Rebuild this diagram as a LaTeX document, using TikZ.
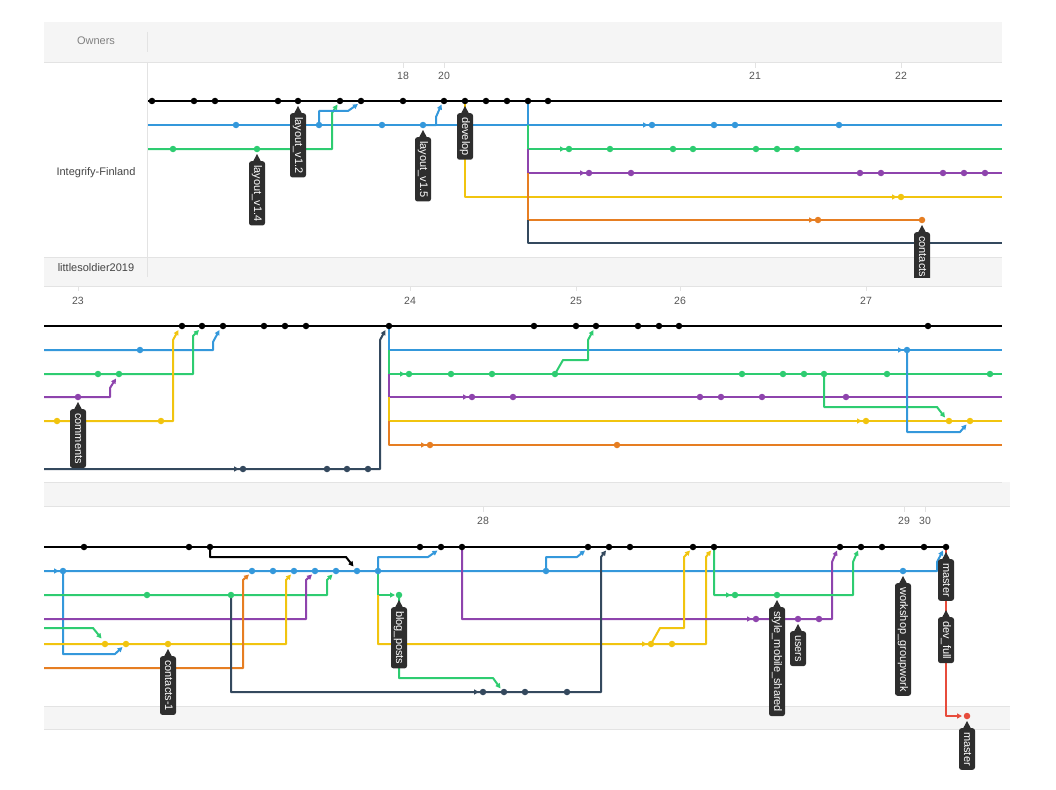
\documentclass[tikz,border=0pt]{standalone}
\usepackage{fontspec}
\setmainfont{Liberation Sans}
\usetikzlibrary{arrows.meta}

\definecolor{cB}{HTML}{3498DB}
\definecolor{cG}{HTML}{2ECC71}
\definecolor{cP}{HTML}{8E44AD}
\definecolor{cY}{HTML}{F1C40F}
\definecolor{cO}{HTML}{E67E22}
\definecolor{cN}{HTML}{34495E}
\definecolor{cR}{HTML}{E74C3C}
\definecolor{tagc}{HTML}{2E2E2E}
\definecolor{bandc}{HTML}{F5F5F5}
\definecolor{linec}{HTML}{E3E3E3}
\definecolor{datec}{HTML}{555555}
\definecolor{ownc}{HTML}{444444}

% branch label: name, x, y of the commit, text
\newcommand{\tagat}[4]{%
  \fill[tagc] (#2-4.5,#3+13.5) -- (#2,#3+5) -- (#2+4.5,#3+13.5) -- cycle;
  \node[tag] (#1) at (#2,#3+12) {#4};}
% arrow head in front of a commit dot: colour, x, y
\newcommand{\arrin}[3]{\draw[ln,#1,mrg] (#2-11,#3) -- (#2-4,#3);}

\begin{document}
\begin{tikzpicture}[
        x=1pt, y=-1pt,
        ln/.style={line width=2pt, line join=round},
        mrg/.style={-{Triangle[length=5pt,width=5pt]}},
        dot/.style={circle, inner sep=0pt, minimum size=6.5pt},
        tag/.style={fill=tagc, text=white, rounded corners=2.5pt, rotate=-90, anchor=west,
                    font=\fontsize{11}{11}\selectfont, inner xsep=4pt, inner ysep=3pt,
                    text height=7.8pt, text depth=2.2pt},
        bline/.style={draw=linec, line width=0.8pt},
        date/.style={text=datec, font=\fontsize{10.5}{12}\selectfont},
        owner/.style={text=ownc, font=\fontsize{11}{13}\selectfont}
    ]
\useasboundingbox (0,0) rectangle (1056,789);

% --- Panel 1: frame ---
\fill[bandc] (44,22) rectangle (1002,62);
\fill[bandc] (44,257) rectangle (1002,286);
\draw[bline] (44,62) -- (1002,62) (44,257) -- (1002,257) (44,286) -- (1002,286);
\draw[bline] (147,32) -- (147,52) (147,62) -- (147,277);
\node[owner, text=datec!75] (own) at (96,41) {Owners};
\node[owner] (org) at (96,173) {Integrify-Finland};
\node[owner] (usr) at (96,268) {littlesoldier2019};
\foreach \x/\d in {403/18,444/20,755/21,901/22} {
    \draw[bline] (\x,62) -- (\x,68);
    \node[date] (d\d) at (\x,76) {\d};
}

% --- Panel 1: branches ---
\draw[ln] (148,101) -- (1002,101);
\draw[ln,cB] (148,125) -- (1002,125);
\draw[ln,cG,mrg] (148,149) -- (332,149) -- (332,113) -- (337.5,104.5);
\draw[ln,cB,mrg] (319,125) -- (319,111) -- (348,111) -- (358,104);
\draw[ln,cB,mrg] (423,125) -- (436,125) -- (436,117) -- (441.5,104.5);
\draw[ln,cY] (465,101) -- (465,197) -- (1002,197);
\draw[ln,cB] (528,101) -- (528,125);
\draw[ln,cG] (528,125) -- (528,149) -- (1002,149);
\draw[ln,cP] (528,149) -- (528,173) -- (1002,173);
\draw[ln,cO] (528,173) -- (528,220) -- (922,220);
\draw[ln,cN] (528,220) -- (528,243) -- (1002,243);
\arrin{cB}{652}{125} \arrin{cG}{569}{149} \arrin{cP}{589}{173}
\arrin{cY}{901}{197} \arrin{cO}{818}{220}

% --- Panel 1: commits ---
\foreach \x [count=\i] in {152,194,215,278,298,340,361,403,444,465,486,507,528,548}
    \node[dot, fill=black] (ka\i) at (\x,101) {};
\foreach \x [count=\i] in {236,319,382,423,652,714,735,839}
    \node[dot, fill=cB] (ba\i) at (\x,125) {};
\foreach \x [count=\i] in {173,257,569,610,673,693,756,777,797}
    \node[dot, fill=cG] (ga\i) at (\x,149) {};
\foreach \x [count=\i] in {589,631,860,881,943,964,985}
    \node[dot, fill=cP] (pa\i) at (\x,173) {};
\node[dot, fill=cY] (ya1) at (901,197) {};
\node[dot, fill=cO] (oa1) at (818,220) {};
\node[dot, fill=cO] (oa2) at (922,220) {};

\tagat{t1}{298}{101}{layout\_v1.2}
\tagat{t2}{257}{149}{layout\_v1.4}
\tagat{t3}{423}{125}{layout\_v1.5}
\tagat{t4}{465}{101}{develop}
\begin{scope}
    \clip (0,0) rectangle (1056,277);
    \tagat{t5}{922}{220}{contacts}
\end{scope}

% --- Panel 2: frame ---
\foreach \x/\d in {78/23,410/24,576/25,680/26,866/27} {
    \draw[bline] (\x,286) -- (\x,291);
    \node[date] (d\d) at (\x,301) {\d};
}
\fill[bandc] (44,482) rectangle (1010,506);
\draw[bline] (44,482) -- (1002,482) (44,506) -- (1010,506);

% --- Panel 2: branches ---
\draw[ln] (44,326) -- (1002,326);
\draw[ln,cB,mrg] (44,350) -- (213,350) -- (213,342) -- (219.5,330);
\draw[ln,cG,mrg] (44,374) -- (193,374) -- (193,336) -- (199,330);
\draw[ln,cP,mrg] (44,397) -- (110,397) -- (110,388) -- (116,378.5);
\draw[ln,cY,mrg] (44,421) -- (173,421) -- (173,340) -- (178.5,330);
\draw[ln,cN,mrg] (44,469) -- (380,469) -- (380,340) -- (385.5,330);
\draw[ln,cB] (389,326) -- (389,350) -- (1002,350);
\draw[ln,cG] (389,350) -- (389,374) -- (1002,374);
\draw[ln,cP] (389,374) -- (389,397) -- (1002,397);
\draw[ln,cY] (389,397) -- (389,421) -- (1002,421);
\draw[ln,cO] (389,421) -- (389,445) -- (1002,445);
\draw[ln,cG,mrg] (555,374) -- (563,360) -- (588,360) -- (588,340) -- (593.5,330);
\draw[ln,cG,mrg] (824,374) -- (824,407) -- (937,407) -- (945,417.5);
\draw[ln,cB,mrg] (907,350) -- (907,432) -- (960,432) -- (966.5,424.5);
\arrin{cN}{243}{469} \arrin{cG}{409}{374} \arrin{cP}{472}{397}
\arrin{cO}{430}{445} \arrin{cB}{907}{350} \arrin{cY}{866}{421}

% --- Panel 2: commits ---
\foreach \x [count=\i] in {182,202,223,264,285,306,389,534,576,596,638,659,679,928}
    \node[dot, fill=black] (kb\i) at (\x,326) {};
\foreach \x [count=\i] in {140,907}
    \node[dot, fill=cB] (bb\i) at (\x,350) {};
\foreach \x [count=\i] in {98,119,409,451,492,555,742,783,804,824,887,990}
    \node[dot, fill=cG] (gb\i) at (\x,374) {};
\foreach \x [count=\i] in {78,472,513,700,721,762,846}
    \node[dot, fill=cP] (pb\i) at (\x,397) {};
\foreach \x [count=\i] in {57,161,866,949,970}
    \node[dot, fill=cY] (yb\i) at (\x,421) {};
\foreach \x [count=\i] in {430,617}
    \node[dot, fill=cO] (ob\i) at (\x,445) {};
\foreach \x [count=\i] in {243,327,347,368}
    \node[dot, fill=cN] (nb\i) at (\x,469) {};

\tagat{t6}{78}{397}{comments}

% --- Panel 3: frame ---
\foreach \x/\d in {483/28,904/29,925/30} {
    \draw[bline] (\x,506) -- (\x,512);
    \node[date] (d\d) at (\x,521) {\d};
}
\fill[bandc] (44,706) rectangle (1010,729);
\draw[bline] (44,706) -- (1010,706) (44,729) -- (1010,729);

% --- Panel 3: branches ---
\draw[ln] (44,547) -- (946,547);
\draw[ln,mrg] (210,547) -- (210,557) -- (346,557) -- (353.5,566.5);
\draw[ln,cB,mrg] (44,571) -- (937,571) -- (937,562) -- (943,550.5);
\draw[ln,cB,mrg] (63,571) -- (63,654) -- (115,654) -- (122.5,647);
\draw[ln,cB,mrg] (378,571) -- (378,557) -- (428,557) -- (437.5,550.5);
\draw[ln,cB,mrg] (546,571) -- (546,557) -- (577,557) -- (585,550.5);
\draw[ln,cG,mrg] (44,595) -- (327,595) -- (327,580) -- (332.5,574.5);
\draw[ln,cG,mrg] (378,571) -- (378,595) -- (395,595);
\draw[ln,cY,mrg] (378,595) -- (378,644) -- (706,644) -- (706,557) -- (711,550.5);
\draw[ln,cG,mrg] (399,595) -- (399,678) -- (493,678) -- (500.5,688.5);
\draw[ln,cG,mrg] (44,628) -- (93,628) -- (101.5,638.5);
\draw[ln,cP,mrg] (44,619) -- (306,619) -- (306,580) -- (312,574.5);
\draw[ln,cP,mrg] (462,547) -- (462,619) -- (832,619) -- (832,562) -- (837,550.5);
\draw[ln,cY,mrg] (44,644) -- (286,644) -- (286,580) -- (291,574.5);
\draw[ln,cY,mrg] (651,644) -- (660,628) -- (684,628) -- (684,557) -- (690,550.5);
\draw[ln,cO,mrg] (44,668) -- (243,668) -- (243,580) -- (249,574.5);
\draw[ln,cN,mrg] (231,595) -- (231,692) -- (601,692) -- (601,557) -- (606,550.5);
\draw[ln,cG,mrg] (714,547) -- (714,595) -- (853,595) -- (853,562) -- (858,550.5);
\draw[ln,cR,mrg] (946,547) -- (946,716) -- (962,716);
\arrin{cB}{63}{571} \arrin{cN}{483}{692} \arrin{cY}{651}{644}
\arrin{cG}{735}{595} \arrin{cP}{756}{619}

% --- Panel 3: commits ---
\foreach \x [count=\i] in {84,189,210,420,441,462,588,609,630,693,714,840,861,882,924,946}
    \node[dot, fill=black] (kc\i) at (\x,547) {};
\foreach \x [count=\i] in {63,252,273,294,315,336,357,378,546,903}
    \node[dot, fill=cB] (bc\i) at (\x,571) {};
\foreach \x [count=\i] in {147,231,399,735,777}
    \node[dot, fill=cG] (gc\i) at (\x,595) {};
\foreach \x [count=\i] in {756,798,819}
    \node[dot, fill=cP] (pc\i) at (\x,619) {};
\foreach \x [count=\i] in {105,126,168,651,672}
    \node[dot, fill=cY] (yc\i) at (\x,644) {};
\foreach \x [count=\i] in {483,504,525,567}
    \node[dot, fill=cN] (nc\i) at (\x,692) {};
\node[dot, fill=cR] (rc1) at (967,716) {};

\tagat{t7}{168}{644}{contacts-1}
\tagat{t8}{399}{595}{blog\_posts}
\tagat{t9}{777}{595}{style\_mobile\_shared}
\tagat{t10}{798}{619}{users}
\tagat{t11}{903}{571}{workshop\_groupwork}
\tagat{t12}{946}{547}{master}
\tagat{t13}{946}{605}{dev\_full}
\tagat{t14}{967}{716}{master}

\end{tikzpicture}
\end{document}
